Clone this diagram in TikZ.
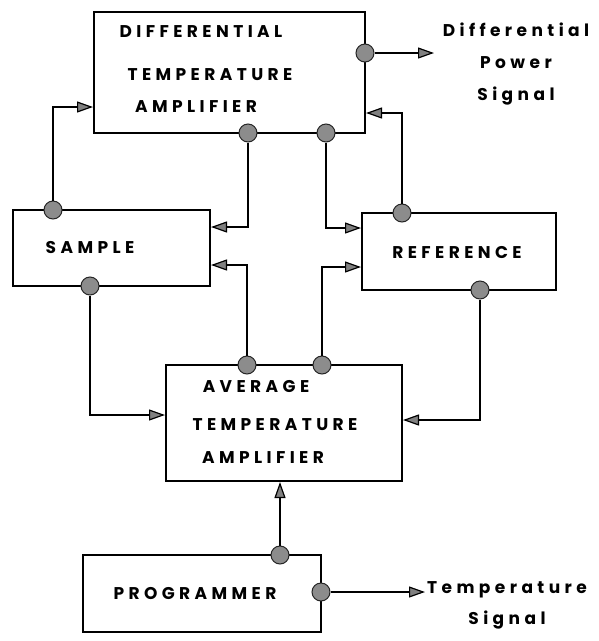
\documentclass[tikz,border=0pt]{standalone}
\usepackage{fontspec}
\newfontfamily\blockfont[LetterSpace=26]{Poppins}
\usetikzlibrary{arrows.meta}

\tikzset{
  block/.style={draw, line width=2pt, inner sep=0pt},
  term/.style={circle, draw=black!85, fill=black!45, line width=1pt, minimum size=18pt, inner sep=0pt},
  sig/.style={line width=1.8pt, -{Triangle[length=16pt,width=11pt,line width=1.2pt,fill=black!50]}},
  lbl/.style={font=\blockfont\bfseries\fontsize{17}{17}\selectfont, inner sep=0pt},
}

\begin{document}
\begin{tikzpicture}[x=1pt, y=-1pt]
	%%%%% START %%%%%
	\useasboundingbox (0,0) rectangle (599,641);

	% blocks
	\node[block, minimum width=271pt, minimum height=121pt] (dta) at (229.5,72.5) {};
	\node[block, minimum width=197pt, minimum height=76pt] (sample) at (111.5,248) {};
	\node[block, minimum width=194pt, minimum height=77pt] (ref) at (459,251.5) {};
	\node[block, minimum width=236pt, minimum height=116pt] (ata) at (284,423) {};
	\node[block, minimum width=238pt, minimum height=77pt] (prog) at (202,593.5) {};

	% block texts
	\node[lbl] (dta-a) at (201,32) {DIFFERENTIAL};
	\node[lbl] (dta-b) at (210,75) {TEMPERATURE};
	\node[lbl] (dta-c) at (196,107) {AMPLIFIER};
	\node[lbl] (sample-a) at (90,248) {SAMPLE};
	\node[lbl] (ref-a) at (457,253) {REFERENCE};
	\node[lbl] (ata-a) at (256,387) {AVERAGE};
	\node[lbl] (ata-b) at (275,425) {TEMPERATURE};
	\node[lbl] (ata-c) at (263,458) {AMPLIFIER};
	\node[lbl] (prog-a) at (195,593) {PROGRAMMER};

	% terminals
	\node[term] (dtaout) at (365,53) {};
	\node[term] (dtab1) at (248,133) {};
	\node[term] (dtab2) at (326,133) {};
	\node[term] (sampt) at (53,210) {};
	\node[term] (sampb) at (90,286) {};
	\node[term] (reft) at (402,213) {};
	\node[term] (refb) at (480,290) {};
	\node[term] (atat1) at (247,365) {};
	\node[term] (atat2) at (322,365) {};
	\node[term] (progt) at (280,555) {};
	\node[term] (progr) at (321,592) {};

	% loops
	\draw[sig] (sampt) |- ([yshift=-34.5pt]dta.west);
	\draw[sig] (reft) |- ([yshift=-40.5pt]dta.east);
	\draw[sig] (dtab1) |- ([yshift=21pt]sample.east);
	\draw[sig] (atat1) |- ([yshift=-17pt]sample.east);
	\draw[sig] (dtab2) |- ([yshift=23.5pt]ref.west);
	\draw[sig] (atat2) |- ([yshift=-15.5pt]ref.west);
	\draw[sig] (sampb) |- ([yshift=8pt]ata.west);
	\draw[sig] (refb) |- ([yshift=3pt]ata.east);
	\draw[sig] (progt) -- (progt |- ata.south);

	% outputs
	\coordinate (dpend) at (434,53);
	\coordinate (tsend) at (425,592);
	\draw[sig] (dtaout) -- (dpend);
	\draw[sig] (progr) -- (tsend);
	\node[lbl, align=center] (dpsig) at (516,64) {Differential\\[15pt]Power\\[15pt]Signal};
	\node[lbl] (tsig-a) at (507,590) {Temperature};
	\node[lbl] (tsig-b) at (507,620) {Signal};
	%%%%% END %%%%%
\end{tikzpicture}
\end{document}
